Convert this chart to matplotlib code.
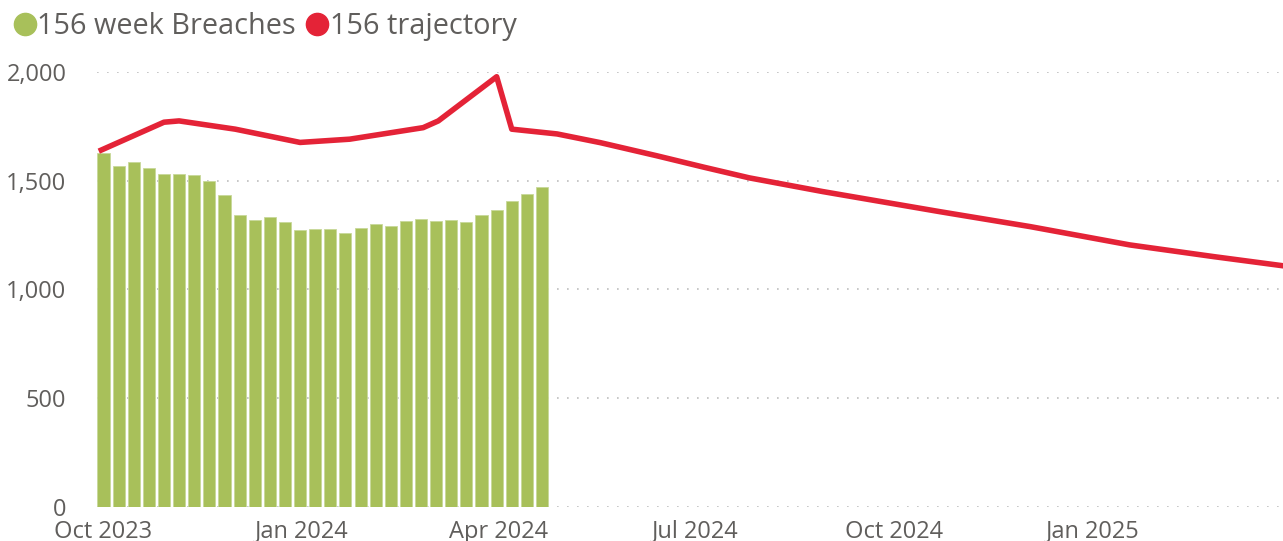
import matplotlib.pyplot as plt
import matplotlib.dates as mdates
from matplotlib.ticker import FuncFormatter
from matplotlib.lines import Line2D
import pandas as pd

# weekly breaches (bars)
week_dates = pd.date_range('2023-10-01', periods=30, freq='7D')
breaches = [1629, 1569, 1585, 1557, 1530, 1530, 1526, 1499, 1436, 1343,
            1320, 1333, 1309, 1272, 1278, 1277, 1261, 1281, 1303, 1293,
            1315, 1324, 1315, 1320, 1310, 1344, 1365, 1408, 1439, 1473]

# trajectory (line)
traj_dates = pd.to_datetime([
    '2023-09-30', '2023-10-29', '2023-11-05', '2023-12-01', '2023-12-31',
    '2024-01-23', '2024-02-26', '2024-03-04', '2024-03-31', '2024-04-07',
    '2024-04-28', '2024-05-18', '2024-06-13', '2024-07-05', '2024-07-26',
    '2024-08-29', '2024-10-22', '2024-12-03', '2025-01-18', '2025-02-26',
    '2025-03-30'])
trajectory = [1641, 1769, 1775, 1737, 1676, 1691, 1744, 1775, 1978, 1737,
              1715, 1675, 1615, 1562, 1513, 1450, 1358, 1289, 1205, 1151,
              1109]

green = '#A8C05A'
red = '#E42337'
txt = '#605E5C'

plt.rcParams['font.family'] = ['Open Sans', 'DejaVu Sans']

fig = plt.figure(figsize=(12.83, 5.41), dpi=100)
ax = fig.add_axes([0.0756, 0.0628, 0.9244, 0.8042])

ax.bar(week_dates, breaches, width=5.6, color=green, edgecolor='#C8D89A', linewidth=0.6, zorder=2)
ax.plot(traj_dates, trajectory, color=red, linewidth=4, solid_joinstyle='round', zorder=3, clip_on=False)

ax.set_ylim(0, 2000)
ax.set_xlim(pd.Timestamp('2023-09-28'), pd.Timestamp('2025-03-30'))
ax.set_yticks([0, 500, 1000, 1500, 2000])
ax.yaxis.set_major_formatter(FuncFormatter(lambda v, p: f'{int(v):,}'))
ax.xaxis.set_major_locator(mdates.MonthLocator(bymonth=[1, 4, 7, 10]))
ax.xaxis.set_major_formatter(mdates.DateFormatter('%b %Y'))

ax.grid(axis='y', color='#BDBDBD', linestyle=(0, (1, 5)), linewidth=1.2, zorder=0)
ax.tick_params(axis='both', length=0, labelsize=17, labelcolor=txt)
ax.tick_params(axis='y', pad=22)
ax.tick_params(axis='x', pad=9)
for s in ax.spines.values():
    s.set_visible(False)

handles = [Line2D([0], [0], marker='o', color='none', markerfacecolor=green, markeredgecolor=green, markersize=16),
           Line2D([0], [0], marker='o', color='none', markerfacecolor=red, markeredgecolor=red, markersize=16)]
fig.legend(handles, ['156 week Breaches', '156 trajectory'], loc='upper left', bbox_to_anchor=(-0.015, 1.025),
           ncol=2, frameon=False, fontsize=20.8, labelcolor=txt, handletextpad=-0.2, columnspacing=0.12,
           handlelength=1.25)

fig.savefig('out.png', dpi=100)
